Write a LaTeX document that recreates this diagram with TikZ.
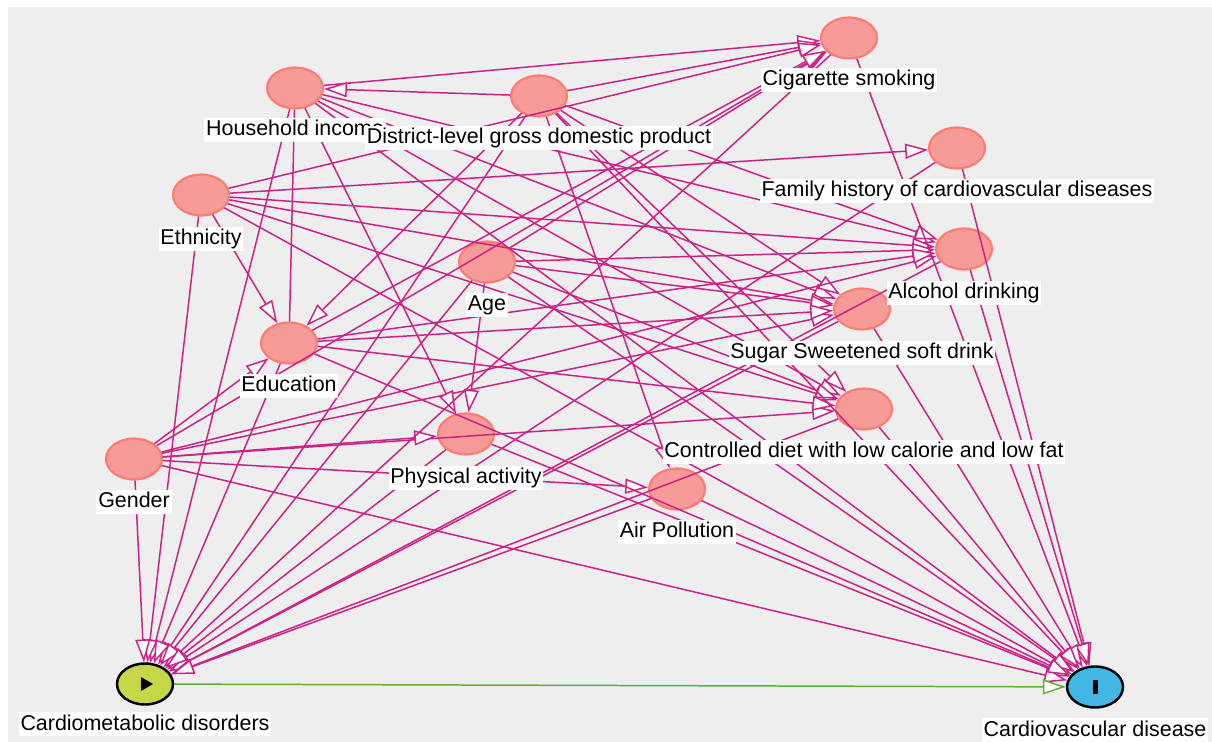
\documentclass[tikz,border=0pt]{standalone}
\usepackage{fontspec}
\setmainfont{Liberation Sans}
\usetikzlibrary{shapes.geometric,arrows.meta}

\definecolor{bggray}{RGB}{238,238,238}
\definecolor{edgecol}{RGB}{204,34,136}
\definecolor{pathgreen}{RGB}{90,180,50}
\definecolor{varfill}{RGB}{247,155,152}
\definecolor{varline}{RGB}{255,122,112}
\definecolor{expfill}{RGB}{198,214,72}
\definecolor{outfill}{RGB}{66,183,230}

\begin{document}
\begin{tikzpicture}[x=0.02cm,y=-0.02cm,
	var/.style={ellipse,draw=varline,fill=varfill,line width=1.2pt,minimum width=1.12cm,minimum height=0.82cm,inner sep=0pt},
	endvar/.style={var,draw=black,line width=1.4pt},
	lbl/.style={fill=white,inner sep=1pt,font=\fontsize{12.2}{14}\selectfont,text height=9pt,text depth=2.6pt},
	edge/.style={draw=edgecol,line width=0.85pt,-{Triangle[length=13pt,width=8.5pt,fill=white]}}]
	\useasboundingbox (0,0) rectangle (1212,742);
	\fill[white] (0,0) rectangle (1212,742);
	\fill[bggray] (8,7) rectangle (1212,742);
	% variables
	\node[var] (cig) at (849,38) {};
	\node[var] (hi) at (295,88) {};
	\node[var] (dgdp) at (539,96) {};
	\node[var] (fh) at (957,148) {};
	\node[var] (eth) at (201,195) {};
	\node[var] (alc) at (964,249) {};
	\node[var] (age) at (487,262) {};
	\node[var] (ssb) at (862,309) {};
	\node[var] (edu) at (289,343) {};
	\node[var] (diet) at (864,409) {};
	\node[var] (pa) at (466,434) {};
	\node[var] (gen) at (134,459) {};
	\node[var] (ap) at (677,489) {};
	\node[endvar,fill=expfill] (cmd) at (145,684) {};
	\node[endvar,fill=outfill] (cvd) at (1095,687) {};
	\fill ([shift={(-4,-7)}]cmd.center) -- ++(0,14) -- ++(12,-7) -- cycle;
	\fill ([shift={(-2.5,-7)}]cvd.center) rectangle ++(5,14);
	% arrows
	\foreach \s in {hi,dgdp,eth,age,gen,edu}
		\foreach \t in {cig,alc,ssb,diet}
			\draw[edge] (\s) -- (\t);
	\foreach \s/\t in {hi/pa,age/pa,gen/pa,dgdp/hi,eth/fh,eth/edu,dgdp/edu,gen/edu,dgdp/ap,gen/ap}
		\draw[edge] (\s) -- (\t);
	\draw[edge,-] (hi) -- (edu);
	\foreach \s in {cig,hi,dgdp,fh,eth,alc,age,ssb,edu,diet,pa,gen,ap}
	{
		\draw[edge] (\s) -- (cmd);
		\draw[edge] (\s) -- (cvd);
	}
	\draw[edge,draw=pathgreen] (cmd) -- (cvd);
	% labels
	\node[lbl] (cig-l) at ([yshift=-24pt]cig.center) {Cigarette smoking};
	\node[lbl] (hi-l) at ([yshift=-24pt]hi.center) {Household income};
	\node[lbl] (dgdp-l) at ([yshift=-24pt]dgdp.center) {District-level gross domestic product};
	\node[lbl] (fh-l) at ([yshift=-24.5pt]fh.center) {Family history of cardiovascular diseases};
	\node[lbl] (eth-l) at ([yshift=-25pt]eth.center) {Ethnicity};
	\node[lbl] (alc-l) at ([yshift=-25pt]alc.center) {Alcohol drinking};
	\node[lbl] (age-l) at ([yshift=-24.5pt]age.center) {Age};
	\node[lbl] (ssb-l) at ([yshift=-25pt]ssb.center) {Sugar Sweetened soft drink};
	\node[lbl] (edu-l) at ([yshift=-24.5pt]edu.center) {Education};
	\node[lbl] (diet-l) at ([yshift=-24.5pt]diet.center) {Controlled diet with low calorie and low fat};
	\node[lbl] (pa-l) at ([yshift=-25pt]pa.center) {Physical activity};
	\node[lbl] (gen-l) at ([yshift=-24.5pt]gen.center) {Gender};
	\node[lbl] (ap-l) at ([yshift=-24.5pt]ap.center) {Air Pollution};
	\node[lbl] (cmd-l) at ([yshift=-23pt]cmd.center) {Cardiometabolic disorders};
	\node[lbl] (cvd-l) at ([yshift=-24.7pt]cvd.center) {Cardiovascular disease};
\end{tikzpicture}
\end{document}
